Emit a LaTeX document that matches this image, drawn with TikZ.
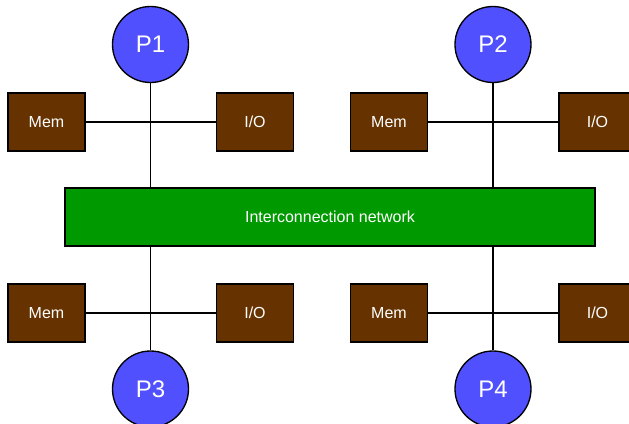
\documentclass[tikz,border=0pt]{standalone}
\usepackage{fontspec}
\setmainfont{Liberation Sans}
\definecolor{procblue}{RGB}{80,80,255}
\definecolor{unitbrown}{RGB}{102,51,0}
\definecolor{netgreen}{RGB}{0,153,0}
\tikzset{every picture/.style={line width=1pt}}
\tikzset{
  proc/.style={circle,draw=black,fill=procblue,text=white,minimum size=57pt,inner sep=0pt,font=\fontsize{18}{20}\selectfont},
  unit/.style={rectangle,draw=black,fill=unitbrown,text=white,minimum width=57.75pt,minimum height=43.5pt,inner sep=0pt,font=\fontsize{12}{14}\selectfont},
  netbox/.style={rectangle,draw=black,fill=netgreen,text=white,minimum width=397.5pt,minimum height=43.5pt,inner sep=0pt,font=\fontsize{12}{14}\selectfont}
}

\begin{document}
\begin{tikzpicture}[x=0.75pt,y=0.75pt,yscale=-1,xscale=1]
\useasboundingbox (0,0) rectangle (629,424);
\clip (0,0) rectangle (629,424);

%Shape: Interconnection network
\node [netbox] (net) at (330,217) {Interconnection network};

%Shape: Processors
\node [proc] (p1) at (150.5,44.5) {P1};
\node [proc] (p2) at (493,44.5) {P2};
\node [proc] (p3) at (150.5,389) {P3};
\node [proc] (p4) at (493,389) {P4};

%Shape: Memory and I/O units
\node [unit] (mem1) at (46.5,122) {Mem};
\node [unit] (io1) at (255,122) {I/O};
\node [unit] (mem2) at (389,122) {Mem};
\node [unit] (io2) at (597.5,122) {I/O};
\node [unit] (mem3) at (46.5,313) {Mem};
\node [unit] (io3) at (255,313) {I/O};
\node [unit] (mem4) at (389,313) {Mem};
\node [unit] (io4) at (597.5,313) {I/O};

%Straight Lines: processor to network
\draw (p1) -- (p1 |- net.north);
\draw (p2) -- (p2 |- net.north);
\draw (p3) -- (p3 |- net.south);
\draw (p4) -- (p4 |- net.south);

%Straight Lines: memory to I/O
\draw (mem1) -- (io1);
\draw (mem2) -- (io2);
\draw (mem3) -- (io3);
\draw (mem4) -- (io4);

\end{tikzpicture}
\end{document}
